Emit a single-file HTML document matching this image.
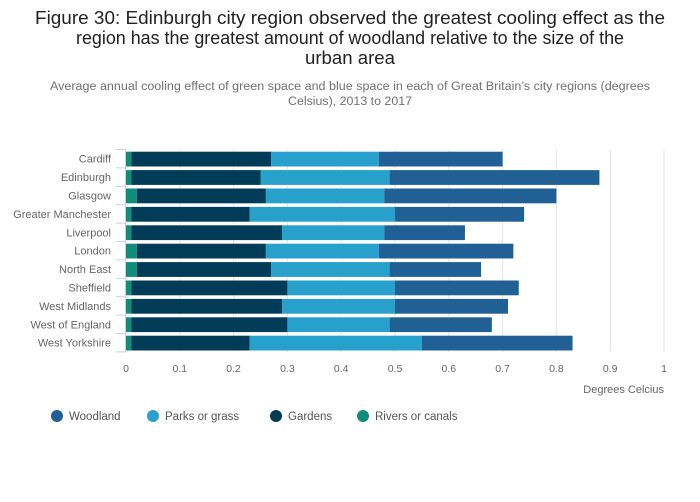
<!DOCTYPE html>
<html><head><meta charset="utf-8"><style>
body{margin:0;background:#fff;}
svg{display:block;font-family:"Liberation Sans",sans-serif;}
</style></head><body>
<svg id="chart" width="700" height="502" viewBox="0 0 700 502" xmlns="http://www.w3.org/2000/svg">
<rect width="700" height="502" fill="#fff"/>
<g fill="#222" font-size="18" text-anchor="middle">
<text x="350" y="24" textLength="630" lengthAdjust="spacingAndGlyphs">Figure 30: Edinburgh city region observed the greatest cooling effect as the</text>
<text x="350" y="44" textLength="548" lengthAdjust="spacingAndGlyphs">region has the greatest amount of woodland relative to the size of the</text>
<text x="350" y="64" textLength="90" lengthAdjust="spacingAndGlyphs">urban area</text>
</g>
<g fill="#707070" font-size="11.5" text-anchor="middle">
<text x="350" y="90" textLength="600" lengthAdjust="spacingAndGlyphs">Average annual cooling effect of green space and blue space in each of Great Britain’s city regions (degrees</text>
<text x="350" y="105" textLength="124" lengthAdjust="spacingAndGlyphs">Celsius), 2013 to 2017</text>
</g>
<g id="grid"></g>
<g id="bars"></g>
<g id="axes"></g>
<g id="legend"></g>
</svg>
<script>
const categories = ["Cardiff","Edinburgh","Glasgow","Greater Manchester","Liverpool","London","North East","Sheffield","West Midlands","West of England","West Yorkshire"];
const rivers   = [0.01,0.01,0.02,0.01,0.01,0.02,0.02,0.01,0.01,0.01,0.01];
const gardens  = [0.26,0.24,0.24,0.22,0.28,0.24,0.25,0.29,0.28,0.29,0.22];
const parks    = [0.20,0.24,0.22,0.27,0.19,0.21,0.22,0.20,0.21,0.19,0.32];
const woodland = [0.23,0.39,0.32,0.24,0.15,0.25,0.17,0.23,0.21,0.19,0.28];
const xTicks = [0,0.1,0.2,0.3,0.4,0.5,0.6,0.7,0.8,0.9,1];
const seriesNames = ["Woodland","Parks or grass","Gardens","Rivers or canals"];
const colors = {"Woodland":"#206095","Parks or grass":"#27a0cc","Gardens":"#003c57","Rivers or canals":"#118c7b"};

const NS = "http://www.w3.org/2000/svg";
const x0 = 126, x1 = 664, yTop = 149.5, band = 18.4;
const xScale = v => x0 + (x1 - x0) * v;
const yBand = i => yTop + i * band;
function mk(tag, attrs, parent){const e=document.createElementNS(NS,tag);for(const k in attrs)e.setAttribute(k,attrs[k]);parent.appendChild(e);return e;}

const grid = document.getElementById("grid");
const axes = document.getElementById("axes");
xTicks.forEach(t=>{
  if(t>0){
    const l = mk("line",{x1:xScale(t),x2:xScale(t),y1:yTop,y2:yTop+band*categories.length,stroke:"#e5e5e5","stroke-width":1},grid);
    
    
  }
  const tx = mk("text",{x:xScale(t),y:372,"font-size":10.5,fill:"#666","text-anchor":"middle"},axes);
  tx.textContent = String(t);
  
  
});
const axl = mk("line",{x1:125.5,x2:125.5,y1:yTop,y2:yTop+band*categories.length,stroke:"#c5d0e6","stroke-width":1},axes);


for(let i=0;i<=categories.length;i++){
  const tk = mk("line",{x1:116,x2:125.5,y1:yBand(i),y2:yBand(i),stroke:"#c5d0e6","stroke-width":1},axes);
  
  
}
categories.forEach((c,i)=>{
  const tx = mk("text",{x:111,y:yBand(i)+band/2+4,"font-size":11,fill:"#666","text-anchor":"end"},axes);
  tx.textContent = c;
  
  
});
const xt = mk("text",{x:664,y:393,"font-size":11,fill:"#666","text-anchor":"end"},axes);
xt.textContent = "Degrees Celcius";



const bars = document.getElementById("bars");
const stack = [["Rivers or canals",rivers],["Gardens",gardens],["Parks or grass",parks],["Woodland",woodland]];
categories.forEach((c,i)=>{
  let cum = 0;
  stack.forEach(([name,arr])=>{
    const v = arr[i];
    const r = mk("rect",{x:xScale(cum),y:yBand(i)+2.2,width:xScale(cum+v)-xScale(cum),height:band-3.6,fill:colors[name]},bars);
    
    
    cum += v;
  });
});

const legend = document.getElementById("legend");
const lx = [57,153,276,363];
seriesNames.forEach((n,i)=>{
  const g = mk("g",{},legend);
  
  
  mk("circle",{cx:lx[i],cy:416,r:6,fill:colors[n]},g);
  const t = mk("text",{x:lx[i]+12,y:420,"font-size":11.5,fill:"#555"},g);
  t.textContent = n;
});
</script>
</body></html>
